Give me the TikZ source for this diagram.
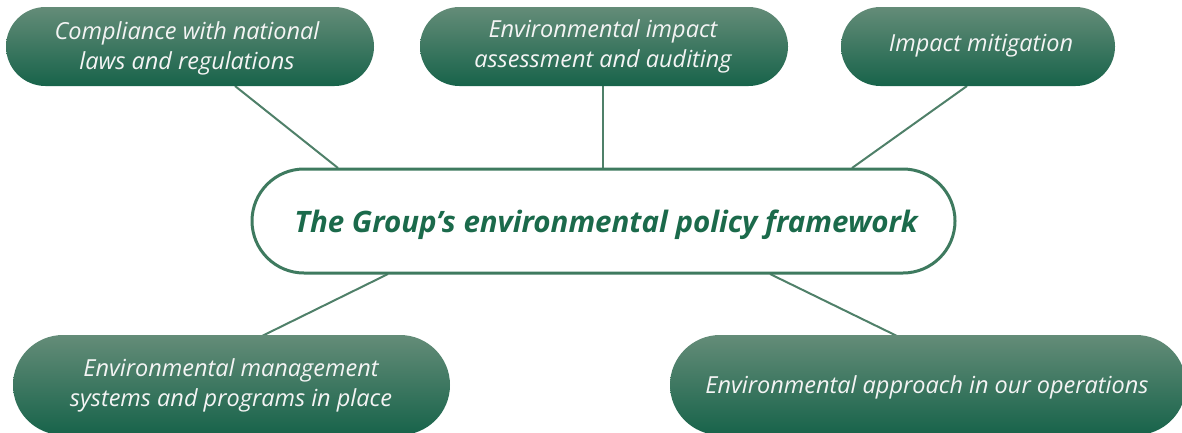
\documentclass[tikz,border=0pt]{standalone}
\usepackage{fontspec}
\setmainfont{Open Sans}
\definecolor{gtop}{HTML}{648C78}
\definecolor{gbot}{HTML}{17634A}
\definecolor{lnk}{HTML}{4F8069}
\definecolor{ctxt}{HTML}{1B6A4B}
\definecolor{cbord}{HTML}{3E7A5F}
\definecolor{wtxt}{HTML}{F4F4F4}
\begin{document}
\begin{tikzpicture}[x=1pt,y=-1pt,
  pill/.style={rounded corners=39.5pt, top color=gtop, bottom color=gbot, draw=none},
  ptxt/.style={text=wtxt, font=\fontsize{23.5}{30}\selectfont\itshape, align=center},
  link/.style={draw=lnk, line width=2pt}]
\useasboundingbox (0,0) rectangle (1182,432);
\begin{scope}
\clip (0,0) rectangle (1182,432);
% connectors
\coordinate (l1a) at (235,86); \coordinate (l1b) at (338,168);
\coordinate (l2a) at (603,86); \coordinate (l2b) at (603,168);
\coordinate (l3a) at (967,86); \coordinate (l3b) at (852,168);
\coordinate (l4a) at (388,274); \coordinate (l4b) at (262,336);
\coordinate (l5a) at (770,274); \coordinate (l5b) at (897,336);
\draw[link] (l1a) -- (l1b);
\draw[link] (l2a) -- (l2b);
\draw[link] (l3a) -- (l3b);
\draw[link] (l4a) -- (l4b);
\draw[link] (l5a) -- (l5b);
% pills
\shade[pill] (6,7) rectangle (374,86);
\shade[pill] (420,7) rectangle (788,86);
\shade[pill] (841,7) rectangle (1115,86);
\shade[pill, rounded corners=50pt] (13,335) rectangle (450,435);
\shade[pill, rounded corners=50pt] (670,335) rectangle (1186,435);
% center
\draw[cbord, line width=3pt, fill=white, rounded corners=52pt] (252,169) rectangle (955,273);
\end{scope}
\node[ptxt] (n1) at (187,48) {Compliance with national\\laws and regulations};
\node[ptxt] (n2) at (603,46) {Environmental impact\\assessment and auditing};
\node[ptxt] (n3) at (981,46) {Impact mitigation};
\node[ptxt] (n4) at (231,385) {Environmental management\\systems and programs in place};
\node[ptxt] (n5) at (927,387) {Environmental approach in our operations};
\node[text=ctxt, font=\fontsize{29.5}{34}\selectfont\bfseries\itshape] (c) at (606,225) {The Group’s environmental policy framework};
\end{tikzpicture}
\end{document}
